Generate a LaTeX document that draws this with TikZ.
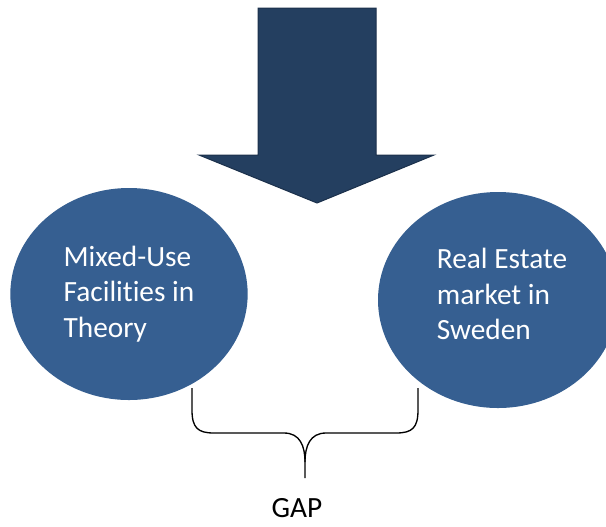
\documentclass[tikz,border=0pt]{standalone}
\usepackage{fontspec}
\setmainfont[Ligatures=NoCommon]{Carlito}
\usetikzlibrary{shapes.geometric}
\definecolor{arrownavy}{RGB}{36,63,96}
\definecolor{arrowedge}{RGB}{27,48,75}
\definecolor{bubbleblue}{RGB}{54,95,145}
\begin{document}
\begin{tikzpicture}[x=0.75pt, y=-0.75pt,
  bubble/.style={ellipse, fill=bubbleblue, inner sep=0pt},
  bubbletext/.style={text=white, align=left, inner sep=0pt,
    font=\fontsize{22}{26.6}\selectfont},
  bracket/.style={black, line width=1pt}]
\useasboundingbox (0,0) rectangle (606,526);

% Downward arrow
\draw[fill=arrownavy, draw=arrowedge, line width=0.75pt, line join=miter]
  (258,8) -- (376,8) -- (376,155) -- (434,155) -- (317,203)
  -- (199,155) -- (258,155) -- cycle;

% The two fields
\node[bubble, minimum width=178pt, minimum height=159pt] (theory) at (129,294) {};
\node[bubble, minimum width=180pt, minimum height=162pt] (sweden) at (498,300) {};
\node[bubbletext] (theorytext) at (theory.center) {Mixed-Use\\Facilities in\\Theory};
\node[bubbletext] (swedentext) at ([shift={(4,-6)}]sweden.center)
  {Real Estate\\market in\\Sweden};

% Gap between them
\coordinate (braceL) at (192,388);
\coordinate (braceR) at (418,388);
\coordinate (braceTip) at (305,478);
\node[font=\fontsize{22}{26}\selectfont, anchor=base, inner sep=0pt] (gap) at (297,517) {GAP};
\draw[bracket] (braceL) -- (192,410) .. controls (192,428) and (198,433) .. (214,433)
  -- (284,433) .. controls (300,433) and (305,446) .. (305,462) -- (braceTip);
\draw[bracket] (braceR) -- (418,410) .. controls (418,428) and (412,433) .. (396,433)
  -- (326,433) .. controls (310,433) and (305,446) .. (305,462);
\end{tikzpicture}
\end{document}
